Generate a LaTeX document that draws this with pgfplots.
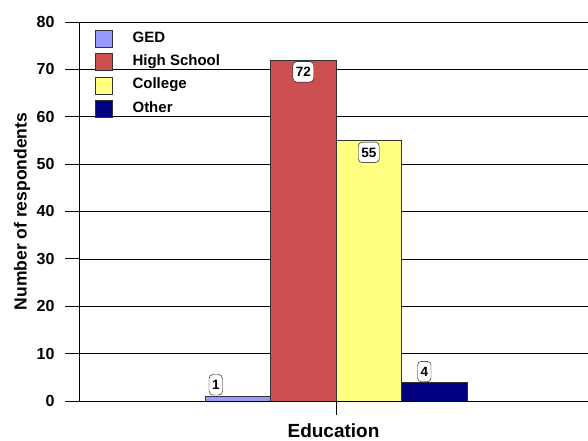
\documentclass[border=0pt]{standalone}
\usepackage{fontspec}
\setmainfont{Liberation Sans}
\usepackage{pgfplots}
\pgfplotsset{compat=1.18}
\definecolor{ged}{RGB}{153,153,255}
\definecolor{hs}{RGB}{204,80,80}
\definecolor{col}{RGB}{255,255,128}
\definecolor{oth}{RGB}{0,0,128}
\begin{document}
\begin{tikzpicture}
\begin{axis}[
 scale only axis, width=509pt, height=379pt,
 xmin=-3.924, xmax=3.847, ymin=0, ymax=80,
 axis x line=bottom, axis y line=left,
 axis line style={-, black, line width=0.8pt},
 ytick={0,10,...,80}, xtick={0}, xticklabels={},
 tick align=outside, major tick length=14pt,
 tick style={black, line width=0.8pt},
 ymajorgrids, major grid style={black, line width=0.6pt},
 /pgf/number format/assume math mode=true,
 yticklabel style={font=\bfseries\fontsize{16}{16}\selectfont, xshift=-7pt},
 ylabel={Number of respondents},
 every axis y label/.style={at={([xshift=-57pt]axis description cs:0,0.5)}, rotate=90, anchor=center,
   font=\bfseries\fontsize{17.5}{17.5}\selectfont},
 xlabel={Education},
 every axis x label/.style={at={([yshift=-30pt]axis description cs:0.5,0)}, anchor=center, inner sep=0pt,
   font=\bfseries\fontsize{19}{19}\selectfont},
 ybar, bar width=1,
 nodes near coords,
 every node near coord/.append style={draw=black, fill=white, rounded corners=4pt,
   font=\bfseries\fontsize{13.5}{13.5}\selectfont, inner xsep=3pt, inner ysep=5.4pt,
   text height=9.7pt, text depth=0pt, text=black},
 legend style={at={(0.0314,0.9789)}, anchor=north west, draw=none, fill=none, inner sep=0pt,
   font=\bfseries\fontsize{15}{15}\selectfont, row sep=5.9pt, column sep=20pt,
   nodes={inner sep=0pt, text height=11pt, text depth=4pt}},
 legend image code/.code={\draw[#1, draw=black!80] (0pt,-8.5pt) rectangle (17pt,8.5pt);},
 legend cell align=left,
]
\addplot[fill=ged, draw=black!80, bar shift=0pt,
  every node near coord/.append style={anchor=south, yshift=1pt, xshift=-22pt}] coordinates {(-1.5,1)};
\addlegendentry{GED}
\addplot[fill=hs, draw=black!80, bar shift=0pt,
  every node near coord/.append style={anchor=north, yshift=-1.5pt}] coordinates {(-0.5,72)};
\addlegendentry{High School}
\addplot[fill=col, draw=black!80, bar shift=0pt,
  every node near coord/.append style={anchor=north, yshift=-1.5pt}] coordinates {(0.5,55)};
\addlegendentry{College}
\addplot[fill=oth, draw=black!80, bar shift=0pt,
  every node near coord/.append style={anchor=south, yshift=0pt, xshift=-10pt}] coordinates {(1.5,4)};
\addlegendentry{Other}
\end{axis}
\pgfresetboundingbox
\path ([shift={(-79pt,-40pt)}]current axis.south west) rectangle ([shift={(0pt,22pt)}]current axis.north east);
\end{tikzpicture}
\end{document}
